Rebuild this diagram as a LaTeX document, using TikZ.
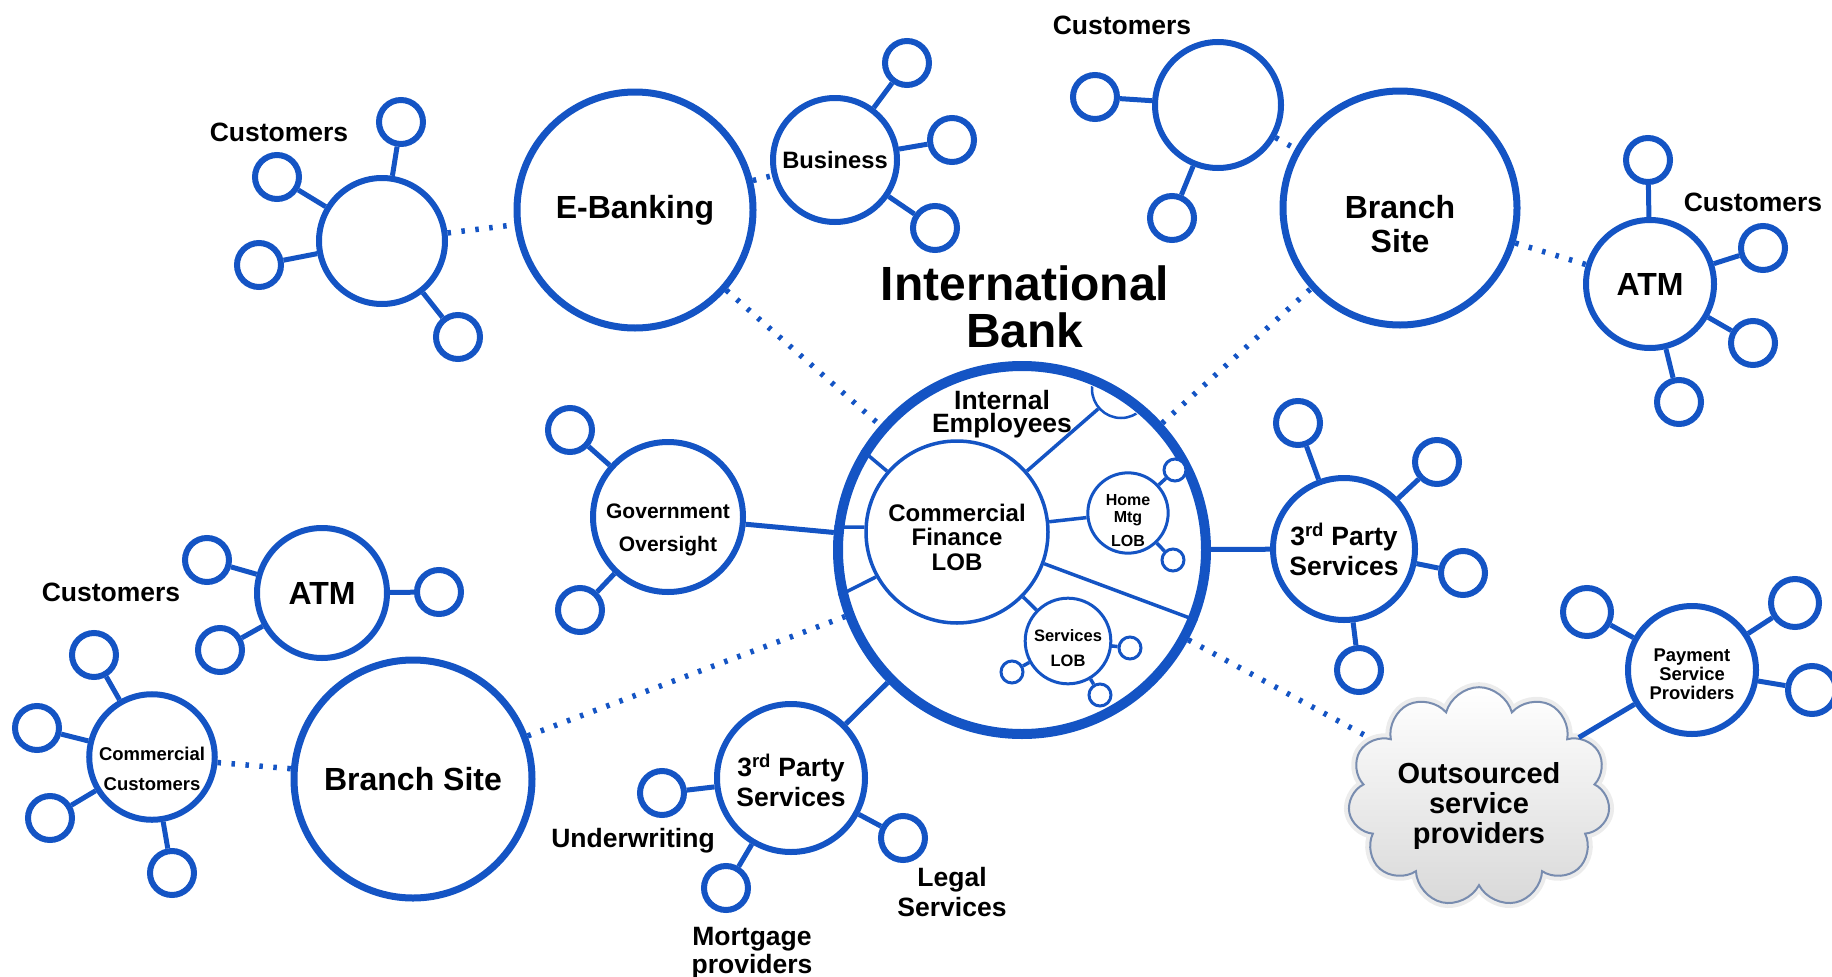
\documentclass[tikz,border=0pt]{standalone}
\usepackage{fontspec}
\setmainfont{Liberation Sans}
\usetikzlibrary{positioning, shapes.symbols}
\definecolor{bankblue}{RGB}{20,84,196}

\begin{document}
\begin{tikzpicture}[ x = 1pt, y = -1pt
                     , every node/.style = { circle
                                         , draw = bankblue
                                         , fill = white
                                         , inner sep = 0pt
                                         , align = center
                                         , font = \bfseries }
                     , site/.style = { minimum size = 236pt, line width = 7pt
                                     , font = \bfseries\fontsize{32}{34}\selectfont }
                     , hub/.style = { minimum size = 128pt, line width = 6pt }
                     , sat/.style = { minimum size = 44pt, line width = 6pt }
                     , pip/.style = { minimum size = 22pt, line width = 3pt }
                     , link/.style = { draw = bankblue, line width = 5pt }
                     , thin link/.style = { draw = bankblue, line width = 3.5pt }
                     , dotlink/.style = { draw = bankblue, line width = 5.5pt
                                        , dash pattern = on 3.5pt off 10.5pt }
                     ]

  \useasboundingbox (0,0) rectangle (1832,977);

  \node (bank) [minimum size = 368pt, line width = 10pt, fill = none] at (1022,550) {};
  \begin{scope}
    \clip (bank.center) circle (178);
    \node (staff) [minimum size = 58pt, line width = 2.5pt] at (1121,389) {};
  \end{scope}
  \node (cf) [minimum size = 182pt, line width = 3.5pt
             , font = \bfseries\fontsize{24}{24.5}\selectfont] at (957,532) {\rule{0pt}{27.5pt}Commercial\\Finance\\LOB};
  \node (homemtg) [minimum size = 70pt, line width = 3pt
                  , font = \bfseries\fontsize{16}{17}\selectfont] at (1128,513) {\rule{0pt}{26pt}Home\\Mtg\\[7pt]LOB};
  \node (hm1) [pip] at (1175,470) {};
  \node (hm2) [pip] at (1173,560) {};
  \node (svclob) [minimum size = 68pt, line width = 3pt
                 , font = \bfseries\fontsize{16.5}{25}\selectfont] at (1068,641) {\rule{0pt}{27pt}Services\\LOB};
  \node (svc1) [pip] at (1130,648) {};
  \node (svc2) [pip] at (1012,672) {};
  \node (svc3) [pip] at (1100,695) {};

  \node (ebanking) [site] at (635,210) {E-Banking};
  \node (webcust) [hub, minimum size = 126pt] at (382,241) {};
  \node (web1) [sat] at (401,122) {};
  \node (web2) [sat] at (277,177) {};
  \node (web3) [sat] at (259,265) {};
  \node (web4) [sat] at (458,337) {};
  \node (business) [hub, minimum size = 124pt
                   , font = \bfseries\fontsize{23.7}{25}\selectfont] at (835,160) {Business};
  \node (biz1) [sat] at (907,63) {};
  \node (biz2) [sat] at (952,140) {};
  \node (biz3) [sat] at (935,228) {};

  \node (branchtop) [site, minimum size = 234pt] at (1400,208) {\rule{0pt}{55pt}Branch\\Site};
  \node (topcust) [hub, minimum size = 126pt] at (1218,105) {};
  \node (top1) [sat] at (1095,97) {};
  \node (top2) [sat] at (1172,218) {};
  \node (atmright) [hub, font = \bfseries\fontsize{32}{34}\selectfont] at (1650,284) {ATM};
  \node (atm1) [sat] at (1648,160) {};
  \node (atm2) [sat] at (1763,248) {};
  \node (atm3) [sat] at (1753,343) {};
  \node (atm4) [sat] at (1679,402) {};

  \node (government) [hub, minimum size = 150pt
                     , font = \bfseries\fontsize{21}{33}\selectfont] at (668,517) {\rule{0pt}{41pt}Government\\Oversight};
  \node (gov1) [sat] at (570,430) {};
  \node (gov2) [sat] at (580,610) {};

  \node (thirdright) [hub, minimum size = 142pt
                     , font = \bfseries\fontsize{26.5}{30}\selectfont] at (1344,549) {3\textsuperscript{rd} Party\\Services};
  \node (tr1) [sat] at (1298,423) {};
  \node (tr2) [sat] at (1437,462) {};
  \node (tr3) [sat] at (1463,573) {};
  \node (tr4) [sat] at (1359,670) {};

  \node (thirdbottom) [hub, minimum size = 148pt
                      , font = \bfseries\fontsize{26.5}{30}\selectfont] at (791,778) {\rule{0pt}{28pt}3\textsuperscript{rd} Party\\Services};
  \node (underwriting) [sat] at (662,793) {};
  \node (mortgage) [sat] at (726,888) {};
  \node (legal) [sat] at (903,838) {};

  \node (payment) [hub
                  , font = \bfseries\fontsize{18.4}{19}\selectfont] at (1692,670) {\rule{0pt}{20.5pt}Payment\\Service\\Providers};
  \node (pay1) [sat, minimum size = 48pt] at (1587,612) {};
  \node (pay2) [sat, minimum size = 48pt] at (1795,603) {};
  \node (pay3) [sat, minimum size = 48pt] at (1812,690) {};

  \node (cloud) [cloud, cloud puffs = 11, aspect = 1.3
                , draw = {rgb,255:red,120;green,140;blue,175}, line width = 2pt
                , top color = white, bottom color = gray!30
                , preaction = {draw = gray!15, line width = 10pt}
                , minimum width = 262pt, minimum height = 200pt
                , font = \bfseries\fontsize{29}{30}\selectfont] at (1479,797) {\rule{0pt}{39pt}Outsourced\\service\\providers};

  \node (atmleft) [hub, minimum size = 130pt
                  , font = \bfseries\fontsize{32}{34}\selectfont] at (322,593) {ATM};
  \node (al1) [sat] at (207,560) {};
  \node (al2) [sat] at (220,650) {};
  \node (al3) [sat] at (439,592) {};

  \node (branchleft) [site, minimum size = 238pt] at (413,779) {Branch Site};
  \node (commcust) [hub, minimum size = 124pt
                   , font = \bfseries\fontsize{18.5}{30}\selectfont] at (152,757) {\rule{0pt}{37.5pt}Commercial\\Customers};
  \node (cc1) [sat] at (94,655) {};
  \node (cc2) [sat] at (37,728) {};
  \node (cc3) [sat] at (50,818) {};
  \node (cc4) [sat] at (172,873) {};

  \draw[thin link] (cf.139) -- (bank.148);
  \draw[thin link] (cf.177) -- (bank.173);
  \draw[thin link] (cf.209) -- (bank.194);
  \draw[thin link] (cf.-20) -- (bank.-22);
  \draw[thin link] (cf) -- (staff);
  \draw[thin link] (cf) -- (homemtg);
  \draw[thin link] (cf) -- (svclob);
  \draw[thin link] (homemtg) -- (hm1);
  \draw[thin link] (homemtg) -- (hm2);
  \draw[thin link] (svclob) -- (svc1);
  \draw[thin link] (svclob) -- (svc2);
  \draw[thin link] (svclob) -- (svc3);

  \draw[link] (webcust) -- (web1);
  \draw[link] (webcust) -- (web2);
  \draw[link] (webcust) -- (web3);
  \draw[link] (webcust) -- (web4);
  \draw[link] (business) -- (biz1);
  \draw[link] (business) -- (biz2);
  \draw[link] (business) -- (biz3);
  \draw[link] (topcust) -- (top1);
  \draw[link] (topcust) -- (top2);
  \draw[link] (atmright) -- (atm1);
  \draw[link] (atmright) -- (atm2);
  \draw[link] (atmright) -- (atm3);
  \draw[link] (atmright) -- (atm4);
  \draw[link] (government) -- (gov1);
  \draw[link] (government) -- (gov2);
  \draw[link] (government) -- (bank);
  \draw[link] (thirdright) -- (tr1);
  \draw[link] (thirdright) -- (tr2);
  \draw[link] (thirdright) -- (tr3);
  \draw[link] (thirdright) -- (tr4);
  \draw[link] (bank) -- (thirdright);
  \draw[link] (thirdbottom) -- (underwriting);
  \draw[link] (thirdbottom) -- (mortgage);
  \draw[link] (thirdbottom) -- (legal);
  \draw[link] (bank) -- (thirdbottom);
  \draw[link] (payment) -- (pay1);
  \draw[link] (payment) -- (pay2);
  \draw[link] (payment) -- (pay3);
  \draw[link] (payment) -- (cloud);
  \draw[link] (atmleft) -- (al1);
  \draw[link] (atmleft) -- (al2);
  \draw[link] (atmleft) -- (al3);
  \draw[link] (commcust) -- (cc1);
  \draw[link] (commcust) -- (cc2);
  \draw[link] (commcust) -- (cc3);
  \draw[link] (commcust) -- (cc4);

  \draw[dotlink] (webcust) -- (ebanking);
  \draw[dotlink] (ebanking) -- (business);
  \draw[dotlink] (ebanking) -- (bank);
  \draw[dotlink] (topcust) -- (branchtop);
  \draw[dotlink] (bank) -- (branchtop);
  \draw[dotlink] (branchtop) -- (atmright);
  \draw[dotlink] (bank) -- (cloud);
  \draw[dotlink] (branchleft) -- (bank);
  \draw[dotlink] (commcust) -- (branchleft);

  \tikzset{every node/.style = { align = center
                               , font = \bfseries\fontsize{26.5}{29}\selectfont }}

  \node (title) [font = \bfseries\fontsize{48}{47}\selectfont] at (1025,307) {International\\Bank};
  \node (employees) [font = \bfseries\fontsize{26.5}{23.5}\selectfont] at (1002,414) {Internal\\Employees};
  \node (webcustlabel) at (279,132) {Customers};
  \node (topcustlabel) at (1122,25) {Customers};
  \node (atmrightlabel) at (1753,202) {Customers};
  \node (atmleftlabel) at (111,592) {Customers};
  \node (underwritinglabel) at (633,841) {Underwriting};
  \node (mortgagelabel) [font = \bfseries\fontsize{26.5}{28}\selectfont] at (752,953) {Mortgage\\providers};
  \node (legallabel) [font = \bfseries\fontsize{26.5}{30}\selectfont] at (952,892) {Legal\\Services};

\end{tikzpicture}
\end{document}
